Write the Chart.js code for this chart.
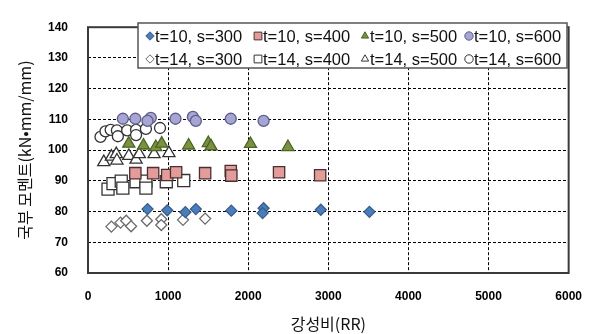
<!DOCTYPE html>
<html>
<head>
<meta charset="utf-8">
<script src="https://cdn.jsdelivr.net/npm/chart.js@4"></script>
<style>
    html, body { margin: 0; padding: 0; background: #fff; }
    #wrap { width: 598px; height: 334px; }
</style>
</head>
<body>
<div id="wrap"><canvas id="chart"></canvas></div>
<script>
// Local moment vs. stiffness ratio
const xTicks = [0, 1000, 2000, 3000, 4000, 5000, 6000];
const yTicks = [60, 70, 80, 90, 100, 110, 120, 130, 140];

const seriesLabels = ['t=10, s=300', 't=10, s=400', 't=10, s=500', 't=10, s=600',
                      't=14, s=300', 't=14, s=400', 't=14, s=500', 't=14, s=600'];

const rrT10S300 = [743, 989, 1215, 1346, 1789, 2192, 2180, 2906, 3513];
const mT10S300  = [80.8, 80.4, 79.8, 80.8, 80.3, 81.1, 79.5, 80.6, 79.9];
const rrT10S400 = [591, 813, 989, 1100, 1462, 1782, 1789, 2385, 2898];
const mT10S400  = [92.5, 92.5, 91.9, 92.8, 92.5, 93.2, 91.7, 92.8, 91.8];
const rrT10S500 = [509, 693, 846, 920, 1256, 1502, 1536, 2028, 2496];
const mT10S500  = [102.1, 101.5, 101.0, 102.1, 101.5, 102.3, 101.2, 102.0, 101.0];
const rrT10S600 = [435, 591, 784, 743, 1092, 1309, 1346, 1782, 2192];
const mT10S600  = [110.2, 110.2, 110.5, 109.5, 110.2, 110.8, 109.5, 110.2, 109.5];

const rrT14S300 = [292, 406, 477, 538, 735, 915, 915, 1186, 1462];
const mT14S300  = [75.1, 76.4, 77.0, 75.2, 77.0, 77.5, 75.6, 77.3, 77.7];
const rrT14S400 = [250, 312, 415, 435, 600, 723, 723, 977, 1195];
const mT14S400  = [87.3, 89.1, 89.9, 87.6, 89.7, 89.9, 87.6, 89.7, 90.1];
const rrT14S500 = [197, 292, 353, 361, 509, 600, 640, 825, 1010];
const mT14S500  = [96.1, 97.9, 98.7, 96.6, 98.1, 96.9, 98.7, 98.7, 99.0];
const rrT14S600 = [156, 218, 283, 361, 373, 489, 600, 600, 723, 899];
const mT14S600  = [104.3, 106.1, 106.6, 106.4, 104.5, 106.4, 106.6, 104.9, 106.9, 107.2];

function pts(xs, ys) {
    return xs.map((x, i) => ({ x: x, y: ys[i] }));
}

function series(label, xs, ys, style, radius, fill, stroke) {
    return {
        label: label,
        data: pts(xs, ys),
        pointStyle: style,
        pointRadius: radius,
        pointHoverRadius: radius,
        pointBackgroundColor: fill,
        pointBorderColor: stroke,
        pointBorderWidth: 1.3,
        showLine: false
    };
}

const datasets = [
    series(seriesLabels[0], rrT10S300, mT10S300, 'rectRot', 5.5, '#4a7ebb', '#385d8a'),
    series(seriesLabels[1], rrT10S400, mT10S400, 'rect', 8, '#e39c9a', '#4a3030'),
    series(seriesLabels[2], rrT10S500, mT10S500, 'triangle', 7, '#77933c', '#4f6228'),
    series(seriesLabels[3], rrT10S600, mT10S600, 'circle', 5.5, '#a7a5d2', '#5e5c8c'),
    series(seriesLabels[4], rrT14S300, mT14S300, 'rectRot', 5.5, '#ffffff', '#6a6a6a'),
    series(seriesLabels[5], rrT14S400, mT14S400, 'rect', 8.5, '#ffffff', '#333333'),
    series(seriesLabels[6], rrT14S500, mT14S500, 'triangle', 7, '#ffffff', '#333333'),
    series(seriesLabels[7], rrT14S600, mT14S600, 'circle', 5.5, '#ffffff', '#333333')
];

// Plot frame + boxed legend inside the plot area
const framePlugin = {
    id: 'frameAndLegend',
    afterDatasetsDraw(chart) {
        const ctx = chart.ctx;
        const a = chart.chartArea;
        ctx.save();
        ctx.strokeStyle = '#3a3a3a';
        ctx.lineWidth = 2;
        ctx.strokeRect(a.left, a.top, a.right - a.left, a.bottom - a.top);

        // legend box
        ctx.fillStyle = '#ffffff';
        ctx.fillRect(138, 23, 429, 45);
        ctx.strokeStyle = '#555555';
        ctx.lineWidth = 1.5;
        ctx.strokeRect(138, 23, 429, 45);

        const colX = [150, 258, 365, 469];
        const rowY = [36, 59];
        ctx.font = '16.5px Arial, sans-serif';
        ctx.textBaseline = 'middle';
        chart.data.datasets.forEach((ds, i) => {
            const x = colX[i % 4];
            const y = rowY[Math.floor(i / 4)];
            ctx.fillStyle = ds.pointBackgroundColor;
            ctx.strokeStyle = ds.pointBorderColor;
            ctx.lineWidth = 1;
            Chart.helpers.drawPoint(ctx, {
                pointStyle: ds.pointStyle,
                radius: ds.pointStyle === 'rect' ? 5.5 : 4.2,
                rotation: 0,
                borderWidth: 1
            }, x, y);
            ctx.fillStyle = '#111111';
            ctx.fillText(ds.label, x + 5, y + 1);
        });
        ctx.restore();
    }
};

const tickFont = { family: 'Arial, sans-serif', size: 12, weight: 'bold' };

new Chart(document.getElementById('chart'), {
    type: 'scatter',
    data: { datasets: datasets },
    options: {
        responsive: true,
        maintainAspectRatio: false,
        animation: false,
        layout: { padding: { left: 0, right: 22, top: 15, bottom: 0 } },
        plugins: {
            legend: { display: false },
            tooltip: { enabled: false }
        },
        scales: {
            x: {
                type: 'linear',
                min: 0,
                max: 6000,
                afterBuildTicks: (scale) => { scale.ticks = xTicks.map(v => ({ value: v })); },
                afterFit: (scale) => { scale.height = 61; },
                ticks: {
                    padding: 16,
                    color: '#000',
                    font: tickFont,
                    callback: (v) => String(v)
                },
                grid: { color: '#000', lineWidth: 1, drawTicks: false },
                border: { display: false, dash: [3, 2] },
                title: {
                    display: true,
                    text: '강성비(RR)',
                    color: '#111',
                    padding: { top: 0, bottom: 0 },
                    font: { family: '"Noto Sans CJK KR", sans-serif', size: 16 }
                }
            },
            y: {
                type: 'linear',
                min: 60,
                max: 140,
                afterBuildTicks: (scale) => { scale.ticks = yTicks.map(v => ({ value: v })); },
                afterFit: (scale) => { scale.width = 88; },
                ticks: {
                    padding: 20,
                    color: '#000',
                    font: tickFont,
                    callback: (v) => String(v)
                },
                grid: { color: '#000', lineWidth: 1, drawTicks: false },
                border: { display: false, dash: [3, 2] },
                title: {
                    display: true,
                    text: '국부 모멘트(kN•mm/mm)',
                    color: '#111',
                    padding: { top: 15, bottom: 0 },
                    font: { family: '"Noto Sans CJK KR", sans-serif', size: 16 }
                }
            }
        }
    },
    plugins: [framePlugin]
});
</script>
</body>
</html>
